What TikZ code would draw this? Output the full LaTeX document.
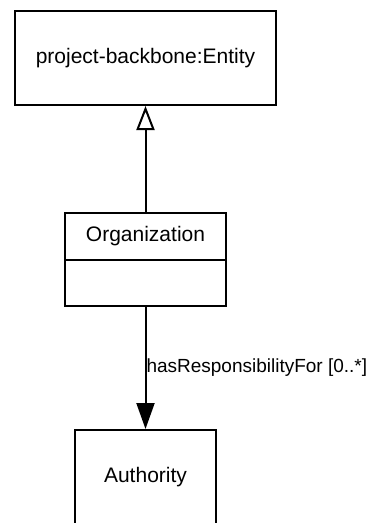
\documentclass[tikz,border=0pt]{standalone}
\usepackage{fontspec}
\setmainfont{Liberation Sans}
\usetikzlibrary{arrows.meta}
\begin{document}
\begin{tikzpicture}[x=1pt, y=-1pt,
        classbox/.style={draw=black, line width=2pt, inner sep=0pt, font=\fontsize{21}{25}\selectfont},
        generalize/.style={-{Triangle[open, length=24pt, width=18pt]}, line width=2pt},
        assoc/.style={-{Triangle[length=26pt, width=18pt]}, line width=2pt}]
        \useasboundingbox (0,0) rectangle (368,523);

        \node[classbox, minimum width=261pt, minimum height=94pt](Entity) at (145.5, 58){project-backbone:Entity};

        \node[classbox, minimum width=161pt, minimum height=47pt](OrgHead) at (145.5, 236.5){Organization};
        \node[classbox, minimum width=161pt, minimum height=46pt](OrgBody) at (145.5, 283){};

        \node[classbox, minimum width=141pt, minimum height=94pt](Authority) at (145.5, 477){Authority};

        \draw[generalize](OrgHead.north) -- (Entity.south);
        \draw[assoc](OrgBody.south) -- node[anchor=west, inner sep=0pt, font=\fontsize{19}{23}\selectfont]{hasResponsibilityFor [0..*]}(Authority.north);

    \end{tikzpicture}
\end{document}
